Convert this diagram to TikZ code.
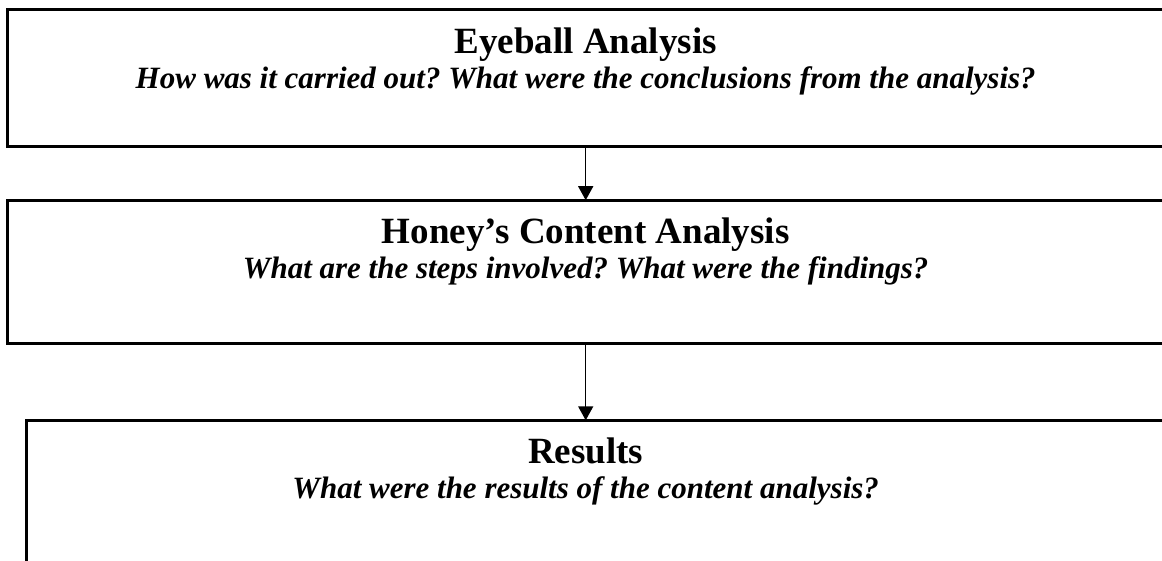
\documentclass[tikz,border=0pt]{standalone}
\usepackage{fontspec}
\setmainfont{Liberation Serif}
\usetikzlibrary{arrows.meta}
\frenchspacing
\begin{document}
\begin{tikzpicture}[x=1pt,y=-1pt,
  stagebox/.style={draw=black,line width=3pt,rectangle,inner sep=0pt,outer sep=0pt,anchor=north west},
  headline/.style={font=\fontsize{37}{40}\selectfont\bfseries,anchor=base,inner sep=0pt},
  question/.style={font=\fontsize{31}{34}\selectfont\bfseries\itshape,anchor=base,inner sep=0pt},
  flow/.style={line width=1.5pt,-{Triangle[width=15pt,length=14pt]}}]
  \useasboundingbox (0,0) rectangle (1162,560);
  \begin{scope}
    \clip (0,0) rectangle (1162,560);
    % three stacked stages
    \node[stagebox,minimum width=1170pt,minimum height=136.7pt] (b1) at (7.5,9.8) {};
    \node[stagebox,minimum width=1170pt,minimum height=143.6pt] (b2) at (7.8,200.2) {};
    \node[stagebox,minimum width=1150pt,minimum height=160pt] (b3) at (26.5,420.3) {};
  \end{scope}
  % column of the text and the connectors
  \coordinate (col) at (585.7,0);
  \node[headline] (t1) at (585.7,53) {Eyeball Analysis};
  \node[question] (q1) at (585.7,88) {How was it carried out? What were the conclusions from the analysis?};
  \node[headline] (t2) at (585.7,243) {Honey’s Content Analysis};
  \node[question] (q2) at (585.7,278) {What are the steps involved? What were the findings?};
  \node[headline] (t3) at (585.7,463) {Results};
  \node[question] (q3) at (585.7,498) {What were the results of the content analysis?};
  % connectors between the stages
  \draw[flow] (b1.south -| col) -- (b2.north -| col);
  \draw[flow] (b2.south -| col) -- (b3.north -| col);
\end{tikzpicture}
\end{document}
